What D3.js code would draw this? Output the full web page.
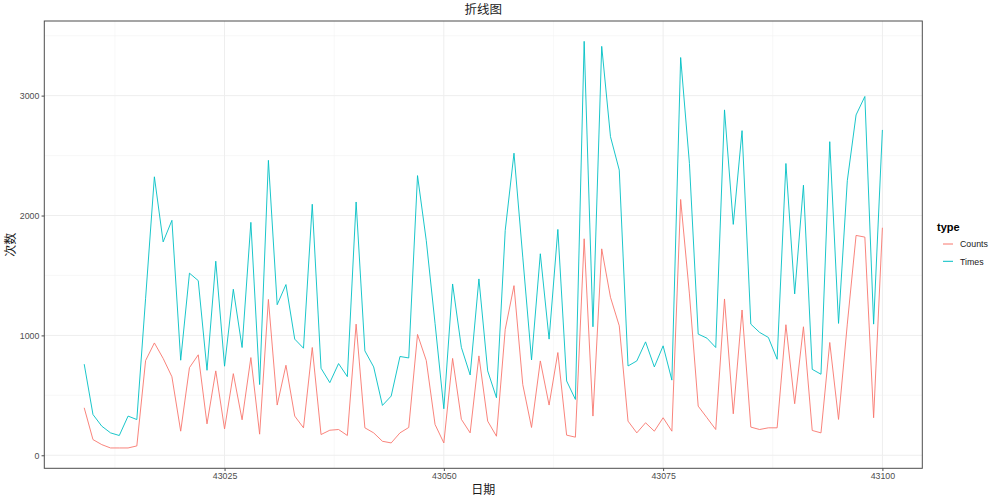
<!DOCTYPE html>
<html>
<head>
<meta charset="utf-8">
<script src="https://cdn.jsdelivr.net/npm/d3@7"></script>
<style>
  html, body { margin: 0; padding: 0; background: #fff; }
  svg { display: block; }
  text { font-family: "Liberation Sans", Arial, "Noto Sans CJK SC", sans-serif; }
  .cjk { font-family: "Noto Sans CJK SC", sans-serif; }
</style>
</head>
<body>
<svg id="chart" width="1000" height="500"></svg>
<script>
const startDay = 43009;
const timesValues = [760,340,243,187,165,327,298,1310,2323,1780,1960,793,1519,1457,709,1619,743,1385,899,1943,
  590,2460,1256,1424,969,893,2094,726,606,765,656,2113,871,737,416,494,824,812,2333,1790,
  1100,388,1429,900,670,1471,704,480,1876,2520,1653,795,1681,969,1884,620,466,3453,1072,3411,
  2658,2379,745,787,946,737,913,627,3318,2435,1011,977,899,2881,1926,2708,1094,1025,983,801,
  2434,1346,2253,717,676,2616,1100,2290,2839,2993,1094,2714];
const countsValues = [396,131,89,61,61,61,78,790,937,808,655,201,731,838,262,704,220,681,296,815,
  176,1300,419,751,327,229,899,173,209,215,165,1094,229,187,117,103,187,232,1008,790,
  257,103,808,300,187,829,285,159,1050,1415,590,232,787,419,857,168,151,1806,327,1722,
  1318,1080,285,187,271,201,313,201,2134,1346,410,313,215,1304,346,1212,235,215,229,229,
  1089,430,1072,207,187,941,299,1094,1834,1820,313,1898];
const days = timesValues.map((_, i) => startDay + i);
const seriesNames = ["Counts", "Times"];
const seriesColors = ["#F8766D", "#00BFC4"];
const xTicks = [43025, 43050, 43075, 43100];
const xMinorTicks = [43012.5, 43037.5, 43062.5, 43087.5];
const yTicks = [0, 1000, 2000, 3000];
const yMinorTicks = [500, 1500, 2500, 3500];
const titleText = "折线图";
const xLabel = "日期";
const yLabel = "次数";
const legendTitle = "type";

const series = [
  { name: seriesNames[0], color: seriesColors[0], values: countsValues },
  { name: seriesNames[1], color: seriesColors[1], values: timesValues }
];

const panel = { left: 44.3, right: 922.3, top: 21, bottom: 468.3 };
const svg = d3.select("#chart");

const xExt = d3.extent(days);
const xPad = (xExt[1] - xExt[0]) * 0.05;
const x = d3.scaleLinear().domain([xExt[0] - xPad, xExt[1] + xPad]).range([panel.left, panel.right]);
const allVals = countsValues.concat(timesValues);
const yExt = d3.extent(allVals);
const yPad = (yExt[1] - yExt[0]) * 0.05;
const y = d3.scaleLinear().domain([yExt[0] - yPad, yExt[1] + yPad]).range([panel.bottom, panel.top]);

svg.append("rect").attr("x", panel.left).attr("y", panel.top)
  .attr("width", panel.right - panel.left).attr("height", panel.bottom - panel.top)
  .attr("fill", "#fff");

const grid = svg.append("g");
grid.selectAll(".xminor").data(xMinorTicks).enter().append("line")
  .attr("x1", d => x(d)).attr("x2", d => x(d)).attr("y1", panel.top).attr("y2", panel.bottom)
  .attr("stroke", "#F4F4F4").attr("stroke-width", 0.6);
grid.selectAll(".yminor").data(yMinorTicks.filter(d => y(d) > panel.top)).enter().append("line")
  .attr("y1", d => y(d)).attr("y2", d => y(d)).attr("x1", panel.left).attr("x2", panel.right)
  .attr("stroke", "#F4F4F4").attr("stroke-width", 0.6);
grid.selectAll(".xmajor").data(xTicks).enter().append("line")
  .attr("x1", d => x(d)).attr("x2", d => x(d)).attr("y1", panel.top).attr("y2", panel.bottom)
  .attr("stroke", "#EEEEEE").attr("stroke-width", 1);
grid.selectAll(".ymajor").data(yTicks).enter().append("line")
  .attr("y1", d => y(d)).attr("y2", d => y(d)).attr("x1", panel.left).attr("x2", panel.right)
  .attr("stroke", "#EEEEEE").attr("stroke-width", 1);

const line = d3.line().x((d, i) => x(days[i])).y(d => y(d));
svg.append("g").selectAll("path").data(series).enter().append("path")
  .attr("d", d => line(d.values))
  .attr("fill", "none")
  .attr("stroke", d => d.color)
  .attr("stroke-width", 0.9)
  .attr("stroke-linejoin", "round");

svg.append("rect").attr("x", panel.left).attr("y", panel.top)
  .attr("width", panel.right - panel.left).attr("height", panel.bottom - panel.top)
  .attr("fill", "none").attr("stroke", "#4D4D4D").attr("stroke-width", 1);

const xAxis = d3.axisBottom(x).tickValues(xTicks).tickFormat(d3.format("d")).tickSize(2.75).tickPadding(2.2);
const gx = svg.append("g").attr("transform", `translate(0,${panel.bottom})`).call(xAxis);
gx.select(".domain").remove();
gx.selectAll(".tick line").attr("stroke", "#4D4D4D").attr("stroke-width", 1);
gx.selectAll(".tick text").attr("fill", "#4D4D4D").style("font-size", "8.8px");

const yAxis = d3.axisLeft(y).tickValues(yTicks).tickFormat(d3.format("d")).tickSize(2.75).tickPadding(2.2);
const gy = svg.append("g").attr("transform", `translate(${panel.left},0)`).call(yAxis);
gy.select(".domain").remove();
gy.selectAll(".tick line").attr("stroke", "#4D4D4D").attr("stroke-width", 1);
gy.selectAll(".tick text").attr("fill", "#4D4D4D").style("font-size", "8.8px");

const cx = (panel.left + panel.right) / 2;
svg.append("text").attr("class", "cjk").attr("x", cx).attr("y", 14)
  .attr("text-anchor", "middle").style("font-size", "12.5px").attr("fill", "#1a1a1a").text(titleText);
svg.append("text").attr("class", "cjk").attr("x", cx).attr("y", 494)
  .attr("text-anchor", "middle").style("font-size", "12px").attr("fill", "#1a1a1a").text(xLabel);
svg.append("text").attr("class", "cjk")
  .attr("transform", `translate(15,${(panel.top + panel.bottom) / 2}) rotate(-90)`)
  .attr("text-anchor", "middle").style("font-size", "12px").attr("fill", "#1a1a1a").text(yLabel);

const lg = svg.append("g").attr("transform", "translate(937,0)");
lg.append("text").attr("x", 0).attr("y", 231).style("font-size", "11px").style("font-weight", "bold")
  .attr("fill", "#000").text(legendTitle);
const items = lg.selectAll(".item").data(series).enter().append("g")
  .attr("transform", (d, i) => `translate(0,${244 + i * 17.3})`);
items.append("line").attr("x1", 6).attr("x2", 16).attr("y1", 0).attr("y2", 0)
  .attr("stroke", d => d.color).attr("stroke-width", 1);
items.append("text").attr("x", 23).attr("y", 3.3).style("font-size", "8.8px").attr("fill", "#1a1a1a")
  .text(d => d.name);
</script>
</body>
</html>
